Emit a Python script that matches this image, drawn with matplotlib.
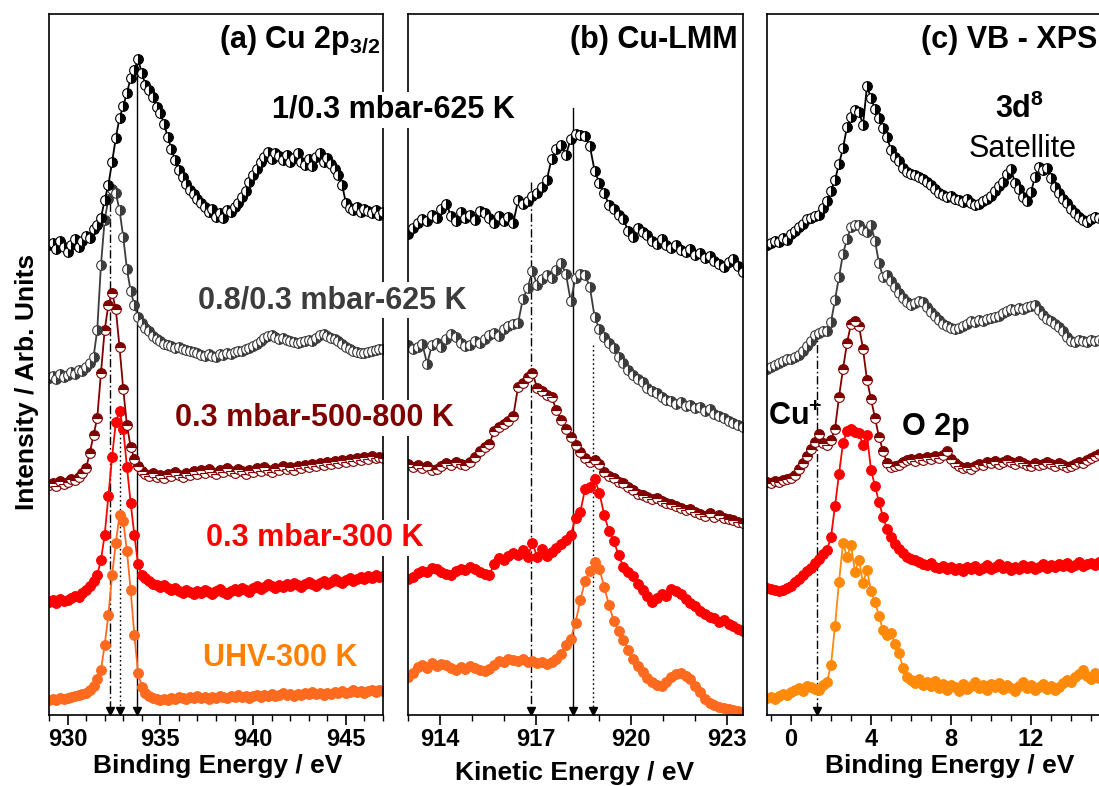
import numpy as np
import matplotlib
matplotlib.use("Agg")
import matplotlib.pyplot as plt
from matplotlib.ticker import MultipleLocator, FixedLocator

plt.rcParams['font.family'] = ['Liberation Sans', 'DejaVu Sans']
plt.rcParams['font.weight'] = 'bold'
plt.rcParams['mathtext.fontset'] = 'custom'
plt.rcParams['mathtext.rm'] = 'Liberation Sans:bold'
plt.rcParams['mathtext.bf'] = 'Liberation Sans:bold'
plt.rcParams['mathtext.it'] = 'Liberation Sans:bold'

# ---------------------------------------------------------------------------
# Stacked intensities (arb. units); series order: 1/0.3 mbar-625 K,
# 0.8/0.3 mbar-625 K, 0.3 mbar-500-800 K, 0.3 mbar-300 K, UHV-300 K
# ---------------------------------------------------------------------------

# (a) Cu 2p3/2, binding energy grid 929.0 ... 947.0 eV, 0.2 eV step
cu2p_energy = np.round(np.arange(929.0, 947.0001, 0.2), 2)

cu2p_o2_1mbar = [
    470, 472, 466, 474, 468, 463, 470, 476, 468, 474,
    479, 477, 486, 490, 497, 515, 530, 553, 577, 597,
    609, 622, 637, 645, 656, 642, 630, 625, 618, 608,
    602, 591, 578, 566, 555, 545, 538, 531, 525, 521,
    516, 512, 508, 503, 506, 498, 502, 497, 505, 503,
    508, 512, 518, 524, 533, 540, 546, 553, 558, 563,
    556, 562, 559, 555, 560, 553, 557, 562, 553, 550,
    556, 549, 558, 562, 553, 557, 551, 546, 540, 530,
    512, 507, 505, 508, 503, 506, 504, 502, 505, 500,
    503]
cu2p_o2_08mbar = [
    337, 339, 336, 341, 338, 340, 343, 341, 345, 344,
    348, 352, 358, 385, 450, 495, 516, 526, 522, 505,
    478, 446, 424, 410, 398, 392, 387, 384, 379, 376,
    374, 371, 370, 369, 367, 368, 366, 365, 364, 363,
    362, 360, 359, 361, 359, 358, 361, 360, 362, 361,
    363, 364, 364, 366, 367, 369, 371, 374, 377, 379,
    380, 378, 376, 377, 375, 374, 373, 372, 373, 374,
    375, 374, 377, 380, 381, 379, 377, 376, 374, 371,
    368, 366, 364, 363, 362, 362, 363, 364, 365, 366,
    366]
cu2p_03mbar_hot = [
    230, 232, 229, 234, 231, 233, 236, 235, 238, 242,
    247, 262, 280, 297, 342, 385, 410, 422, 406, 368,
    326, 290, 268, 256, 249, 244, 241, 239, 242, 238,
    240, 237, 241, 239, 243, 240, 238, 242, 240, 244,
    241, 245, 242, 246, 243, 241, 245, 243, 247, 244,
    242, 246, 244, 241, 245, 243, 247, 244, 248, 245,
    243, 247, 245, 249, 246, 248, 245, 249, 247, 250,
    248, 251, 249, 252, 250, 253, 251, 254, 252, 255,
    253, 256, 254, 257, 255, 258, 256, 259, 257, 258,
    257]
cu2p_03mbar_300 = [
    113, 115, 112, 116, 114, 115, 117, 119, 118, 122,
    125, 129, 134, 140, 155, 180, 219, 258, 293, 304,
    286, 248, 212, 180, 151, 140, 137, 134, 131, 130,
    128, 130, 127, 125, 127, 124, 122, 125, 123, 121,
    124, 122, 125, 123, 121, 124, 126, 123, 121, 124,
    126, 124, 127, 125, 123, 127, 129, 126, 128, 131,
    129, 127, 130, 128, 131, 129, 132, 130, 128, 131,
    133, 131, 129, 132, 134, 131, 133, 136, 134, 132,
    135, 137, 134, 136, 138, 136, 139, 137, 140, 138,
    139]
cu2p_uhv = [
    15, 16, 15, 17, 16, 17, 18, 19, 20, 21,
    22, 25, 29, 36, 45, 70, 100, 140, 172, 200,
    194, 164, 125, 80, 42, 28, 22, 19, 17, 16,
    15, 16, 15, 17, 16, 18, 17, 16, 18, 17,
    19, 17, 18, 16, 18, 17, 19, 18, 17, 19,
    18, 20, 18, 19, 17, 19, 20, 18, 20, 19,
    21, 19, 20, 22, 20, 21, 19, 21, 20, 22,
    21, 23, 21, 22, 20, 22, 21, 23, 22, 24,
    22, 23, 25, 23, 24, 22, 24, 25, 23, 25,
    24]

# (b) Cu-LMM, kinetic energy grid 913.00 ... 923.50 eV, 0.15 eV step
lmm_energy = np.round(np.arange(913.0, 923.5001, 0.15), 2)

lmm_o2_1mbar = [
    481, 487, 492, 496, 494, 500, 497, 506, 511, 499,
    494, 503, 497, 500, 495, 504, 502, 497, 492, 499,
    494, 498, 492, 515, 511, 514, 519, 522, 528, 535,
    556, 566, 570, 560, 576, 581, 580, 579, 569, 544,
    532, 522, 510, 506, 500, 496, 484, 478, 487, 483,
    480, 474, 471, 476, 470, 467, 470, 465, 463, 466,
    460, 462, 457, 459, 454, 451, 448, 453, 456, 449,
    443]
lmm_o2_08mbar = [
    370, 366, 368, 371, 351, 370, 372, 368, 376, 381,
    378, 372, 369, 370, 374, 372, 376, 380, 382, 379,
    386, 389, 391, 392, 416, 427, 444, 430, 436, 440,
    437, 445, 452, 441, 414, 437, 441, 440, 428, 398,
    386, 378, 372, 367, 358, 352, 345, 340, 336, 333,
    327, 324, 322, 318, 315, 314, 311, 313, 309, 310,
    307, 308, 304, 306, 301, 299, 297, 294, 292, 290,
    288]
lmm_03mbar_hot = [
    251, 248, 250, 247, 249, 245, 246, 249, 252, 250,
    253, 251, 250, 253, 258, 264, 268, 271, 284, 288,
    291, 294, 299, 328, 332, 338, 342, 327, 324, 320,
    318, 305, 295, 286, 278, 270, 263, 257, 253, 255,
    251, 243, 239, 237, 233, 232, 228, 225, 221, 220,
    218, 216, 217, 214, 212, 211, 209, 207, 205, 206,
    203, 201, 199, 202, 198, 200, 197, 196, 195, 193,
    192]
lmm_03mbar_300 = [
    136, 138, 142, 144, 143, 147, 146, 143, 141, 140,
    144, 146, 145, 148, 146, 143, 141, 140, 151, 157,
    155, 159, 162, 160, 165, 158, 172, 158, 166, 159,
    163, 167, 171, 175, 180, 197, 203, 226, 228, 236,
    222, 200, 184, 174, 160, 148, 143, 139, 131, 125,
    119, 113, 117, 121, 119, 126, 124, 121, 116, 112,
    109, 104, 101, 98, 97, 93, 95, 91, 89, 86,
    84]
lmm_uhv = [
    38, 42, 48, 50, 47, 52, 49, 51, 50, 47,
    45, 48, 46, 49, 47, 45, 44, 46, 50, 54,
    53, 56, 55, 54, 56, 53, 54, 52, 53, 51,
    53, 56, 61, 70, 76, 92, 115, 134, 144, 153,
    146, 128, 110, 94, 84, 75, 65, 56, 49, 43,
    37, 33, 30, 29, 33, 38, 41, 42, 39, 36,
    29, 23, 16, 12, 10, 8, 7, 6, 5, 4,
    3]

# (c) valence band, binding energy grid -1.2 ... 15.6 eV, 0.2 eV step
vb_energy = np.round(np.arange(-1.2, 15.6001, 0.2), 2)

vb_o2_1mbar = [
    470, 472, 474, 473, 477, 475, 481, 484, 488, 491,
    496, 497, 499, 500, 507, 514, 524, 535, 551, 567,
    588, 598, 605, 603, 590, 629, 617, 606, 597, 587,
    578, 565, 558, 554, 547, 543, 541, 540, 538, 536,
    533, 530, 526, 522, 520, 518, 519, 516, 515, 513,
    516, 512, 510, 511, 514, 516, 519, 524, 529, 533,
    541, 546, 532, 526, 518, 514, 523, 538, 548, 545,
    547, 537, 528, 522, 516, 512, 506, 502, 498, 495,
    493, 496, 498, 497, 495]
vb_o2_08mbar = [
    346, 348, 350, 352, 354, 356, 356, 358, 360, 364,
    369, 374, 380, 382, 384, 384, 393, 415, 438, 461,
    476, 488, 490, 490, 485, 483, 490, 474, 452, 438,
    440, 434, 428, 422, 417, 413, 410, 412, 414, 413,
    408, 403, 399, 395, 391, 389, 387, 386, 387, 389,
    391, 394, 393, 395, 394, 396, 397, 398, 399, 402,
    404, 406, 405, 407, 406, 408, 409, 410, 405, 400,
    396, 394, 391, 388, 384, 378, 374, 373, 375, 374,
    373, 375, 374, 375, 374]
vb_03mbar_hot = [
    233, 232, 234, 233, 235, 236, 237, 240, 246, 252,
    259, 266, 273, 281, 272, 270, 275, 286, 318, 346,
    372, 391, 394, 389, 366, 335, 316, 297, 278, 264,
    252, 248, 249, 250, 253, 255, 256, 254, 257, 255,
    258, 256, 259, 257, 260, 264, 256, 252, 249, 247,
    248, 246, 249, 251, 250, 253, 252, 254, 251, 253,
    255, 253, 251, 254, 252, 250, 249, 252, 250, 251,
    253, 251, 249, 252, 250, 248, 249, 251, 253, 252,
    255, 257, 259, 261, 262]
vb_03mbar_300 = [
    127, 126, 125, 124, 125, 127, 129, 133, 136, 140,
    144, 147, 152, 156, 161, 165, 178, 209, 241, 272,
    284, 286, 283, 282, 270, 280, 245, 229, 213, 198,
    186, 178, 171, 166, 162, 158, 156, 155, 153, 151,
    150, 152, 148, 147, 149, 146, 148, 145, 147, 144,
    148, 146, 149, 145, 147, 150, 146, 148, 151, 147,
    149, 145, 148, 146, 150, 147, 149, 146, 148, 151,
    147, 150, 148, 151, 149, 152, 148, 150, 153, 149,
    151, 152, 150, 153, 151]
vb_uhv = [
    17, 18, 16, 19, 21, 20, 23, 25, 27, 24,
    29, 28, 26, 25, 30, 33, 50, 89, 133, 172,
    158, 170, 143, 155, 132, 145, 124, 113, 99, 85,
    80, 82, 71, 62, 47, 38, 35, 32, 36, 30,
    33, 29, 34, 27, 31, 25, 30, 28, 24, 31,
    26, 29, 33, 27, 30, 25, 31, 28, 32, 26,
    30, 27, 24, 29, 33, 27, 30, 25, 28, 31,
    26, 29, 25, 28, 32, 35, 33, 38, 41, 45,
    39, 36, 42, 37, 40]

# Tick positions for each panel
cu2p_ticks = [930, 935, 940, 945]
lmm_ticks = [914, 917, 920, 923]
vb_ticks = [0, 4, 8, 12]

# Peak-position markers: energy and upper end of each guide line
cu2p_guides_e = [932.3, 932.85, 933.75]
cu2p_guides_top = [512, 300, 655]
lmm_guides_e = [916.86, 918.17, 918.79]
lmm_guides_top = [533, 607, 370]
vb_guides_e = [1.3]
vb_guides_top = [386]

series_labels = ["1/0.3 mbar-625 K", "0.8/0.3 mbar-625 K",
                 "0.3 mbar-500-800 K", "0.3 mbar-300 K", "UHV-300 K"]

# ---------------------------------------------------------------------------
W, H = 1099, 786
fig = plt.figure(figsize=(W / 100, H / 100), dpi=100)


def px_axes(x0, x1, y_top, y_bot):
    return fig.add_axes([x0 / W, 1 - y_bot / H, (x1 - x0) / W, (y_bot - y_top) / H])


def ftext(x, y, s, **kw):
    return fig.text(x / W, 1 - y / H, s, **kw)


GRAY = '#3c3c3c'
DRED = '#800000'
RED = '#ff0000'
ORANGE_AB = '#ff6a1e'
ORANGE_C = '#ff8a0a'


def series_styles(orange):
    return [
        dict(color='black', fillstyle='right', markerfacecolor='black',
             markerfacecoloralt='white', markeredgecolor='black'),
        dict(color=GRAY, fillstyle='right', markerfacecolor=GRAY,
             markerfacecoloralt='white', markeredgecolor=GRAY),
        dict(color=DRED, fillstyle='top', markerfacecolor=DRED,
             markerfacecoloralt='white', markeredgecolor=DRED),
        dict(color=RED, fillstyle='full', markerfacecolor=RED,
             markeredgecolor=RED),
        dict(color=orange, fillstyle='full', markerfacecolor=orange,
             markeredgecolor=orange),
    ]


def draw_panel(ax, energy, spectra, orange, xlim, ticks, guides_e, guides_top, guide_ls):
    styles = series_styles(orange)
    for y, st in zip(spectra[::-1], styles[::-1]):
        ax.plot(energy, y, '-', lw=1.3, marker='o', ms=7, mew=0.8, **st)
    for e, top, ls in zip(guides_e, guides_top, guide_ls):
        ax.plot([e, e], [top, 0], color='black', lw=1.0, linestyle=ls, zorder=1)
        ax.plot(e, 4.5, marker='v', ms=5.5, color='black', clip_on=False, zorder=5)
    ax.set_xlim(*xlim)
    ax.set_ylim(0, 701)
    ax.set_yticks([])
    ax.xaxis.set_major_locator(FixedLocator(ticks))
    ax.xaxis.set_minor_locator(MultipleLocator(1))
    ax.tick_params(axis='x', which='major', direction='out', length=7,
                   width=1.2, labelsize=17, pad=2.5)
    ax.tick_params(axis='x', which='minor', direction='out', length=4, width=1.0)
    for sp in ax.spines.values():
        sp.set_linewidth(1.2)


DASHDOT = (0, (6, 2, 1.2, 2))
DOTTED = (0, (1.2, 2))

ax_a = px_axes(49, 383, 14, 715)
draw_panel(ax_a, cu2p_energy,
           [cu2p_o2_1mbar, cu2p_o2_08mbar, cu2p_03mbar_hot, cu2p_03mbar_300, cu2p_uhv],
           ORANGE_AB, (929, 947), cu2p_ticks, cu2p_guides_e, cu2p_guides_top,
           [DASHDOT, DOTTED, '-'])

ax_b = px_axes(408, 743, 14, 715)
draw_panel(ax_b, lmm_energy,
           [lmm_o2_1mbar, lmm_o2_08mbar, lmm_03mbar_hot, lmm_03mbar_300, lmm_uhv],
           ORANGE_AB, (913, 923.5), lmm_ticks, lmm_guides_e, lmm_guides_top,
           [DASHDOT, '-', DOTTED])

ax_c = px_axes(767, 1111, 14, 715)
draw_panel(ax_c, vb_energy,
           [vb_o2_1mbar, vb_o2_08mbar, vb_03mbar_hot, vb_03mbar_300, vb_uhv],
           ORANGE_C, (-1.2, 16.0), vb_ticks, vb_guides_e, vb_guides_top, [DASHDOT])

# Panel titles
ftext(381, 48, r"(a) Cu 2p$_{3/2}$", ha='right', va='baseline', fontsize=22)
ftext(738, 48, "(b) Cu-LMM", ha='right', va='baseline', fontsize=22)
ftext(1097, 48, "(c) VB - XPS", ha='right', va='baseline', fontsize=22)

# Series labels, drawn over the panel borders
label_colors = ['black', GRAY, DRED, RED, '#ff8000']
label_xy = [(393, 118), (332, 308), (314, 426), (315, 546), (280, 666)]
for s, c, (x, y) in zip(series_labels, label_colors, label_xy):
    ftext(x, y, s, ha='center', va='baseline', fontsize=22, color=c,
          bbox=dict(facecolor='white', edgecolor='none', pad=2.5))

# Valence-band annotations
ftext(1020, 118, r"3d$^{8}$", ha='center', va='baseline', fontsize=22)
ftext(1023, 157, "Satellite", ha='center', va='baseline', fontsize=22,
      fontweight='normal')
ftext(768, 425, r"Cu$^{+}$", ha='left', va='baseline', fontsize=22)
ftext(902, 435, "O 2p", ha='left', va='baseline', fontsize=22)

# Axis titles
ftext(218, 773, "Binding Energy / eV", ha='center', va='baseline', fontsize=19)
ftext(575, 780, "Kinetic Energy / eV", ha='center', va='baseline', fontsize=19)
ftext(950, 773, "Binding Energy / eV", ha='center', va='baseline', fontsize=19)
ftext(27, 382, "Intensity / Arb. Units", ha='center', va='center',
      rotation=90, fontsize=19)

fig.savefig("out.png", dpi=100)
